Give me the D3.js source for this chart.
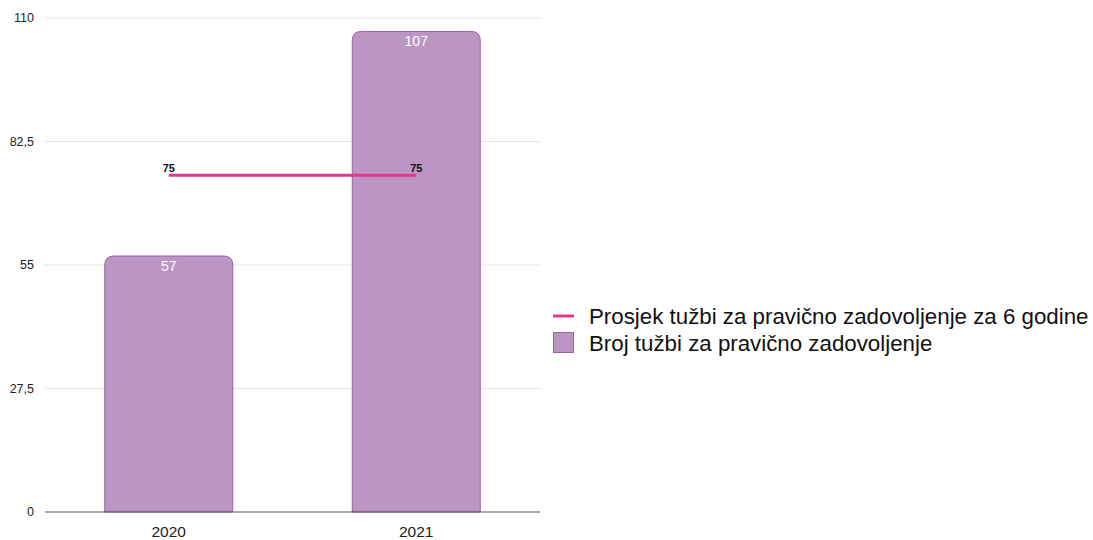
<!DOCTYPE html>
<html>
<head>
<meta charset="utf-8">
<script src="https://cdn.jsdelivr.net/npm/d3@7"></script>
<style>
  body { margin: 0; background: #fff; }
  svg { font-family: "Liberation Sans", Arial, Helvetica, sans-serif; }
</style>
</head>
<body>
<div id="chart"></div>
<script>
var years = ['2020', '2021'];
var counts = [57, 107];
var average = [75, 75];
var yTicks = [0, 27.5, 55, 82.5, 110];
var seriesNames = ['Prosjek tužbi za pravično zadovoljenje za 6 godine', 'Broj tužbi za pravično zadovoljenje'];

var width = 1093, height = 540,
    margin = { top: 18, left: 45, right: 553, bottom: 28 };
var plotW = width - margin.left - margin.right,
    plotH = height - margin.top - margin.bottom;

var svg = d3.select('#chart').append('svg')
    .attr('width', width)
    .attr('height', height);

var g = svg.append('g')
    .attr('transform', 'translate(' + margin.left + ',' + margin.top + ')');

var xScale = d3.scaleBand()
    .domain(years)
    .range([0, plotW])
    .paddingInner(0.483)
    .paddingOuter(0.2415);

var yScale = d3.scaleLinear()
    .domain([0, 110])
    .range([plotH, 0]);

// grid
g.selectAll('line.grid').data(yTicks.slice(1))
    .enter().append('line')
    .attr('class', 'grid')
    .attr('x1', 0).attr('x2', plotW)
    .attr('y1', function(d) { return yScale(d); })
    .attr('y2', function(d) { return yScale(d); })
    .attr('stroke', '#e4e4e4')
    .attr('stroke-width', 1);

// y labels
var fmt = function(d) { return String(d).replace('.', ','); };
g.selectAll('text.ytick').data(yTicks)
    .enter().append('text')
    .attr('class', 'ytick')
    .attr('x', -11)
    .attr('y', function(d) { return yScale(d); })
    .attr('dy', '0.35em')
    .attr('text-anchor', 'end')
    .attr('font-size', 12.5)
    .attr('fill', '#222')
    .text(fmt);

// bars with rounded top corners
function barPath(d, i) {
    var x0 = xScale(years[i]), w = xScale.bandwidth(),
        y0 = yScale(d), y1 = yScale(0), r = 9;
    return 'M' + x0 + ',' + y1 +
        'V' + (y0 + r) +
        'Q' + x0 + ',' + y0 + ' ' + (x0 + r) + ',' + y0 +
        'H' + (x0 + w - r) +
        'Q' + (x0 + w) + ',' + y0 + ' ' + (x0 + w) + ',' + (y0 + r) +
        'V' + y1 + 'Z';
}

g.selectAll('path.bar').data(counts)
    .enter().append('path')
    .attr('class', 'bar')
    .attr('d', barPath)
    .attr('fill', '#bb95c3')
    .attr('stroke', '#9b5fa9')
    .attr('stroke-width', 1);

g.selectAll('text.barlabel').data(counts)
    .enter().append('text')
    .attr('class', 'barlabel')
    .attr('x', function(d, i) { return xScale(years[i]) + xScale.bandwidth() / 2; })
    .attr('y', function(d) { return yScale(d) + 10; })
    .attr('dy', '0.35em')
    .attr('text-anchor', 'middle')
    .attr('font-size', 14)
    .attr('fill', '#fff')
    .text(function(d) { return d; });

// baseline
g.append('line')
    .attr('x1', 0).attr('x2', plotW)
    .attr('y1', yScale(0)).attr('y2', yScale(0))
    .attr('stroke', '#555')
    .attr('stroke-width', 1);

// x labels
g.selectAll('text.xtick').data(years)
    .enter().append('text')
    .attr('class', 'xtick')
    .attr('x', function(d) { return xScale(d) + xScale.bandwidth() / 2; })
    .attr('y', plotH + 25)
    .attr('text-anchor', 'middle')
    .attr('font-size', 15.5)
    .attr('fill', '#222')
    .text(function(d) { return d; });

// average line
var line = d3.line()
    .x(function(d, i) { return xScale(years[i]) + xScale.bandwidth() / 2; })
    .y(function(d) { return yScale(d); });

g.append('path')
    .datum(average)
    .attr('d', line)
    .attr('fill', 'none')
    .attr('stroke', '#e0398c')
    .attr('stroke-width', 3);

g.selectAll('text.avglabel').data(average)
    .enter().append('text')
    .attr('class', 'avglabel')
    .attr('x', function(d, i) { return xScale(years[i]) + xScale.bandwidth() / 2; })
    .attr('y', function(d) { return yScale(d) - 7; })
    .attr('dy', '0.35em')
    .attr('text-anchor', 'middle')
    .attr('font-size', 11)
    .attr('font-weight', 'bold')
    .attr('fill', '#111')
    .text(function(d) { return d; });

// legend
var legend = svg.append('g')
    .attr('transform', 'translate(553,316)');

legend.append('line')
    .attr('x1', 0).attr('x2', 21)
    .attr('y1', 0).attr('y2', 0)
    .attr('stroke', '#e0398c')
    .attr('stroke-width', 3);

legend.append('text')
    .attr('x', 36).attr('y', 0)
    .attr('dy', '0.35em')
    .attr('font-size', 22.3)
    .attr('fill', '#111')
    .text(seriesNames[0]);

legend.append('rect')
    .attr('x', 0.5).attr('y', 16.5)
    .attr('width', 20).attr('height', 20)
    .attr('fill', '#bb95c3')
    .attr('stroke', '#9b5fa9');

legend.append('text')
    .attr('x', 36).attr('y', 27)
    .attr('dy', '0.35em')
    .attr('font-size', 22.3)
    .attr('fill', '#111')
    .text(seriesNames[1]);
</script>
</body>
</html>
